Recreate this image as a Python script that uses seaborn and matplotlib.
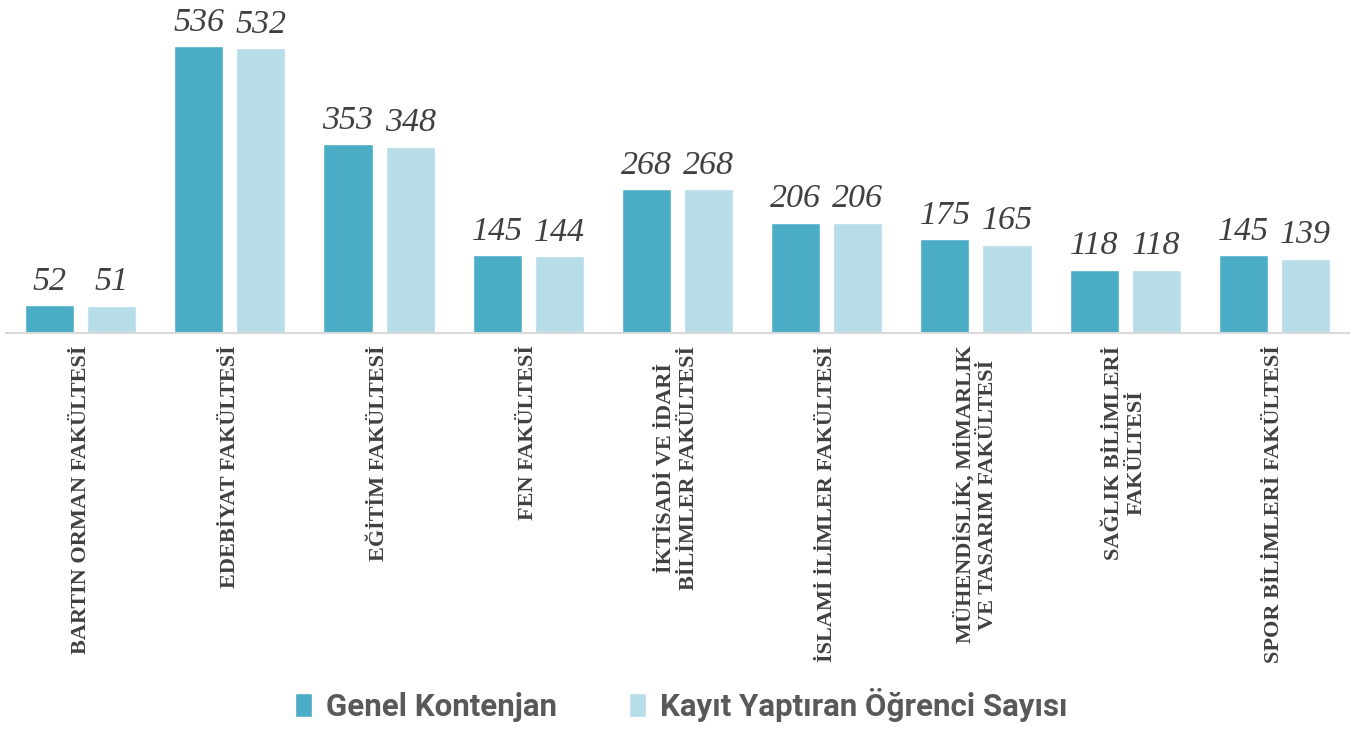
import numpy as np
import pandas as pd
import seaborn as sns
import matplotlib.pyplot as plt


fakulteler = [
    "BARTIN ORMAN FAKÜLTESİ",
    "EDEBİYAT FAKÜLTESİ",
    "EĞİTİM FAKÜLTESİ",
    "FEN FAKÜLTESİ",
    "İKTİSADİ VE İDARİ\nBİLİMLER FAKÜLTESİ",
    "İSLAMİ İLİMLER FAKÜLTESİ",
    "MÜHENDİSLİK, MİMARLIK\nVE TASARIM FAKÜLTESİ",
    "SAĞLIK BİLİMLERİ\nFAKÜLTESİ",
    "SPOR BİLİMLERİ FAKÜLTESİ",
]
genel_kontenjan = [52, 536, 353, 145, 268, 206, 175, 118, 145]
kayit_yaptiran = [51, 532, 348, 144, 268, 206, 165, 118, 139]
seriler = ["Genel Kontenjan", "Kayıt Yaptıran Öğrenci Sayısı"]
renkler = ["#4BACC6", "#B7DDE8"]

df = pd.DataFrame({
    "fakulte": fakulteler * 2,
    "deger": genel_kontenjan + kayit_yaptiran,
    "seri": [seriler[0]] * len(fakulteler) + [seriler[1]] * len(fakulteler),
})

sns.set_theme(style="white")
fig = plt.figure(figsize=(13.63, 7.29), dpi=100)
ax = fig.add_axes([6 / 1363, 1 - 333 / 729, 1343 / 1363, 332 / 729])

sns.barplot(data=df, x="fakulte", y="deger", hue="seri", palette=renkler,
            saturation=1, width=0.832, gap=0.21, ax=ax, legend=True)

for c in ax.containers:
    ax.bar_label(c, padding=6, fontsize=24.5, color="#404040",
                 fontstyle="italic", family="Liberation Serif")

ax.set_ylim(0, 620)
ax.set_xlim(-0.5, len(fakulteler) - 0.5)
ax.set_xlabel("")
ax.set_ylabel("")
ax.set_yticks([])
for s in ["top", "left", "right"]:
    ax.spines[s].set_visible(False)
ax.spines["bottom"].set_color("#D9D9D9")
ax.spines["bottom"].set_linewidth(1.5)

ax.set_xticks(range(len(fakulteler)))
ax.set_xticklabels(fakulteler, rotation=90, ha="center", va="top",
                   multialignment="center", fontsize=16, fontweight="bold",
                   family="Liberation Serif", color="#404040")
ax.tick_params(axis="x", length=0, pad=9)

handles, labels = ax.get_legend_handles_labels()
ax.get_legend().remove()
fig.legend(handles, labels, loc="center", bbox_to_anchor=(0.5, 0.033), ncol=2,
           frameon=False, handlelength=0.55, handleheight=0.8,
           handletextpad=0.45, columnspacing=2.3,
           prop={"family": "Roboto", "weight": "bold", "size": 22.5},
           labelcolor="#595959")

fig.savefig("out.png", dpi=100)
